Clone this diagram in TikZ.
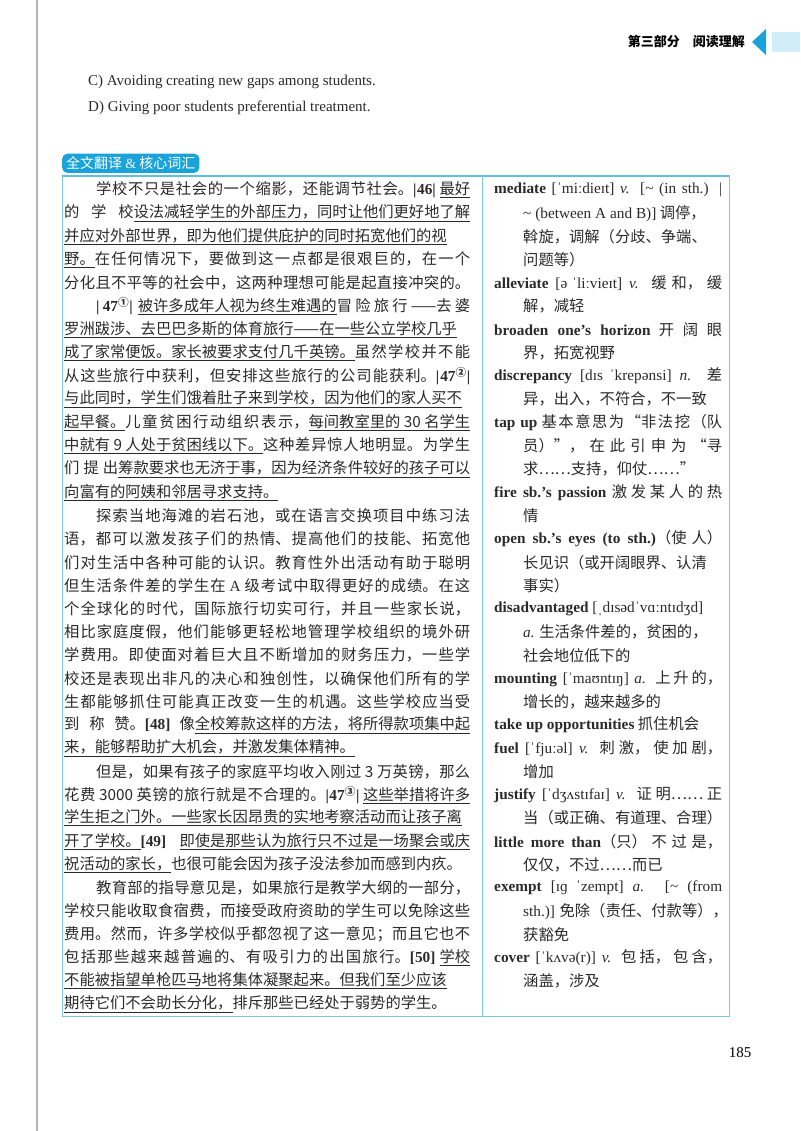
\documentclass[tikz,border=0pt]{standalone}
\usepackage{fontspec}
\setmainfont{Liberation Serif}
\newfontfamily\zh{Noto Sans CJK SC}
\newcommand{\en}[1]{{\rmfamily #1}}
\newcommand{\ul}[1]{\underline{#1}}
\XeTeXlinebreaklocale "zh"
\XeTeXlinebreakskip=0pt plus 3pt
\definecolor{tabcyan}{HTML}{1AA3DA}
\definecolor{boxcyan}{HTML}{7CC9DE}
\definecolor{inkgray}{HTML}{2A2A2A}
\tikzset{
  lf/.style={anchor=west,inner sep=0pt,text width=406pt,align=justify,
    font=\zh\fontsize{15.3}{20}\selectfont,text=inkgray,
    execute at begin node={\parfillskip=0pt\hbadness=10000\emergencystretch=0pt}},
  li/.style={lf,text width=374pt},
  lr/.style={anchor=west,inner sep=0pt,font=\zh\fontsize{15.3}{20}\selectfont,text=inkgray},
  rf/.style={lf,text width=228pt},
  rc/.style={lf,text width=199pt},
  rr/.style={lr}
}
\begin{document}
\begin{tikzpicture}[x=1pt,y=-1pt]
  \useasboundingbox (0,0) rectangle (800,1131);
  \fill[white] (0,0) rectangle (800,1131);
  % Margin line and header
  \draw[gray!60,line width=1.2pt] (37,0) -- (37,1131);
  \node[anchor=east,inner sep=0pt,font=\zh\bfseries\fontsize{13}{15}\selectfont] (head) at (745,42) {第三部分\quad 阅读理解};
  \fill[tabcyan] (752,42) -- (766,29) -- (766,55) -- cycle;
  \fill[tabcyan!20] (772,32) rectangle (800,52);
  % Options
  \node[lr,font=\rmfamily\fontsize{15}{18}\selectfont] (optc) at (88,82) {C) Avoiding creating new gaps among students.};
  \node[lr,font=\rmfamily\fontsize{15}{18}\selectfont] (optd) at (88,108) {D) Giving poor students preferential treatment.};
  % Tab and box
  \node[fill=tabcyan,rounded corners=5pt,text=white,inner xsep=4pt,inner ysep=3pt,anchor=south west,font=\zh\fontsize{14}{16}\selectfont] (tab) at (62,173) {全文翻译 \en{\&} 核心词汇};
  \draw[boxcyan,line width=1pt] (62,176) rectangle (729,1016);
  \draw[tabcyan!70,line width=2pt] (62,176) -- (729,176);
  \draw[boxcyan,line width=0.8pt] (482,176) -- (482,1016);
  % Left column
  \node[li] (l1) at (96,190.0) {学校不只是社会的一个缩影，还能调节社会。\textbf{\en{|46|}} \ul{最好}};
  \node[lf] (l2) at (64,213.3) {的学校\ul{设法减轻学生的外部压力，同时让他们更好地了解}};
  \node[lf] (l3) at (64,236.5) {\ul{并应对外部世界，即为他们提供庇护的同时拓宽他们的视}};
  \node[lf] (l4) at (64,259.8) {\ul{野。}在任何情况下，要做到这一点都是很艰巨的，在一个};
  \node[lf] (l5) at (64,283.0) {分化且不平等的社会中，这两种理想可能是起直接冲突的。};
  \node[li] (l6) at (96,306.3) {\textbf{\en{|47}\textsuperscript{①}\en{|}} \ul{被许多成年人视为终生难遇的}冒险旅行——去婆};
  \node[lf] (l7) at (64,329.6) {\ul{罗洲跋涉、去巴巴多斯的体育旅行——在一些公立学校几乎}};
  \node[lf] (l8) at (64,352.8) {\ul{成了家常便饭。家长被要求支付几千英镑。}虽然学校并不能};
  \node[lf] (l9) at (64,376.1) {从这些旅行中获利，但安排这些旅行的公司能获利。\textbf{\en{|47}\textsuperscript{②}\en{|}}};
  \node[lf] (l10) at (64,399.3) {\ul{与此同时，学生们饿着肚子来到学校，因为他们的家人买不}};
  \node[lf] (l11) at (64,422.6) {\ul{起早餐。}儿童贫困行动组织表示，\ul{每间教室里的 30 名学生}};
  \node[lf] (l12) at (64,445.9) {\ul{中就有 9 人处于贫困线以下。}这种差异惊人地明显。为学生};
  \node[lf] (l13) at (64,469.1) {们提出\ul{筹款要求也无济于事，因为经济条件较好的孩子可以}};
  \node[lr] (l14) at (64,492.4) {\ul{向富有的阿姨和邻居寻求支持。}};
  \node[li] (l15) at (96,515.6) {探索当地海滩的岩石池，或在语言交换项目中练习法};
  \node[lf] (l16) at (64,538.9) {语，都可以激发孩子们的热情、提高他们的技能、拓宽他};
  \node[lf] (l17) at (64,562.2) {们对生活中各种可能的认识。教育性外出活动有助于聪明};
  \node[lf] (l18) at (64,585.4) {但生活条件差的学生在 \en{A} 级考试中取得更好的成绩。在这};
  \node[lf] (l19) at (64,608.7) {个全球化的时代，国际旅行切实可行，并且一些家长说，};
  \node[lf] (l20) at (64,631.9) {相比家庭度假，他们能够更轻松地管理学校组织的境外研};
  \node[lf] (l21) at (64,655.2) {学费用。即使面对着巨大且不断增加的财务压力，一些学};
  \node[lf] (l22) at (64,678.5) {校还是表现出非凡的决心和独创性，以确保他们所有的学};
  \node[lf] (l23) at (64,701.7) {生都能够抓住可能真正改变一生的机遇。这些学校应当受};
  \node[lf] (l24) at (64,725.0) {到称赞。\textbf{\en{[48]}} 像\ul{全校筹款这样的方法，将所得款项集中起}};
  \node[lr] (l25) at (64,748.2) {\ul{来，能够帮助扩大机会，并激发集体精神。}};
  \node[li] (l26) at (96,771.5) {但是，如果有孩子的家庭平均收入刚过 3 万英镑，那么};
  \node[lf] (l27) at (64,794.8) {花费 3000 英镑的旅行就是不合理的。\textbf{\en{|47}\textsuperscript{③}\en{|}} \ul{这些举措将许多}};
  \node[lf] (l28) at (64,818.0) {\ul{学生拒之门外。一些家长因昂贵的实地考察活动而让孩子离}};
  \node[lf] (l29) at (64,841.3) {\ul{开了学校。}\textbf{\en{[49]}} \ul{即使是那些认为旅行只不过是一场聚会或庆}};
  \node[lr] (l30) at (64,864.5) {\ul{祝活动的家长，}也很可能会因为孩子没法参加而感到内疚。};
  \node[li] (l31) at (96,887.8) {教育部的指导意见是，如果旅行是教学大纲的一部分，};
  \node[lf] (l32) at (64,911.1) {学校只能收取食宿费，而接受政府资助的学生可以免除这些};
  \node[lf] (l33) at (64,934.3) {费用。然而，许多学校似乎都忽视了这一意见；而且它也不};
  \node[lf] (l34) at (64,957.6) {包括那些越来越普遍的、有吸引力的出国旅行。\textbf{\en{[50]}} \ul{学校}};
  \node[lf] (l35) at (64,980.8) {\ul{不能被指望单枪匹马地将集体凝聚起来。但我们至少应该}};
  \node[lr] (l36) at (64,1004.1) {\ul{期待它们不会助长分化，}排斥那些已经处于弱势的学生。};
  % Right column
  \node[rf] (r1) at (494,190.0) {\en{\textbf{mediate} [ˈmiːdieɪt] \textit{v.} [\textasciitilde{} (in sth.) |}};
  \node[rr] (r2) at (523,213.3) {\en{\textasciitilde{} (between A and B)]} 调停，};
  \node[rr] (r3) at (523,236.5) {斡旋，调解（分歧、争端、};
  \node[rr] (r4) at (523,259.8) {问题等）};
  \node[rf] (r5) at (494,283.0) {\en{\textbf{alleviate} [əˈliːvieɪt] \textit{v.}} 缓和，缓};
  \node[rr] (r6) at (523,306.3) {解，减轻};
  \node[rf] (r7) at (494,329.6) {\en{\textbf{broaden one’s horizon}} 开阔眼};
  \node[rr] (r8) at (523,352.8) {界，拓宽视野};
  \node[rf] (r9) at (494,376.1) {\en{\textbf{discrepancy} [dɪsˈkrepənsi] \textit{n.}} 差};
  \node[rr] (r10) at (523,399.3) {异，出入，不符合，不一致};
  \node[rf] (r11) at (494,422.6) {\en{\textbf{tap up}} 基本意思为“非法挖（队};
  \node[rc] (r12) at (523,445.9) {员）”，在此引申为“寻};
  \node[rr] (r13) at (523,469.1) {求……支持，仰仗……”};
  \node[rf] (r14) at (494,492.4) {\en{\textbf{fire sb.’s passion}} 激发某人的热};
  \node[rr] (r15) at (523,515.6) {情};
  \node[rf] (r16) at (494,538.9) {\en{\textbf{open sb.’s eyes (to sth.)}}（使人）};
  \node[rr] (r17) at (523,562.2) {长见识（或开阔眼界、认清};
  \node[rr] (r18) at (523,585.4) {事实）};
  \node[rr] (r19) at (494,608.7) {\en{\textbf{disadvantaged} [ˌdɪsədˈvɑːntɪdʒd]}};
  \node[rr] (r20) at (523,631.9) {\en{\textit{a.}} 生活条件差的，贫困的，};
  \node[rr] (r21) at (523,655.2) {社会地位低下的};
  \node[rf] (r22) at (494,678.5) {\en{\textbf{mounting} [ˈmaʊntɪŋ] \textit{a.}} 上升的，};
  \node[rr] (r23) at (523,701.7) {增长的，越来越多的};
  \node[rr] (r24) at (494,725.0) {\en{\textbf{take up opportunities}} 抓住机会};
  \node[rf] (r25) at (494,748.2) {\en{\textbf{fuel} [ˈfjuːəl] \textit{v.}} 刺激，使加剧，};
  \node[rr] (r26) at (523,771.5) {增加};
  \node[rf] (r27) at (494,794.8) {\en{\textbf{justify} [ˈdʒʌstɪfaɪ] \textit{v.}} 证明……正};
  \node[rr] (r28) at (523,818.0) {当（或正确、有道理、合理）};
  \node[rf] (r29) at (494,841.3) {\en{\textbf{little more than}}（只）不过是，};
  \node[rr] (r30) at (523,864.5) {仅仅，不过……而已};
  \node[rf] (r31) at (494,887.8) {\en{\textbf{exempt} [ɪɡˈzempt] \textit{a.} [\textasciitilde{} (from}};
  \node[rr] (r32) at (523,911.1) {\en{sth.)]} 免除（责任、付款等），};
  \node[rr] (r33) at (523,934.3) {获豁免};
  \node[rf] (r34) at (494,957.6) {\en{\textbf{cover} [ˈkʌvə(r)] \textit{v.}} 包括，包含，};
  \node[rr] (r35) at (523,980.8) {涵盖，涉及};
  % Page number
  \node[inner sep=0pt,font=\rmfamily\fontsize{15}{18}\selectfont] (pg) at (740,1053) {185};
\end{tikzpicture}
\end{document}
